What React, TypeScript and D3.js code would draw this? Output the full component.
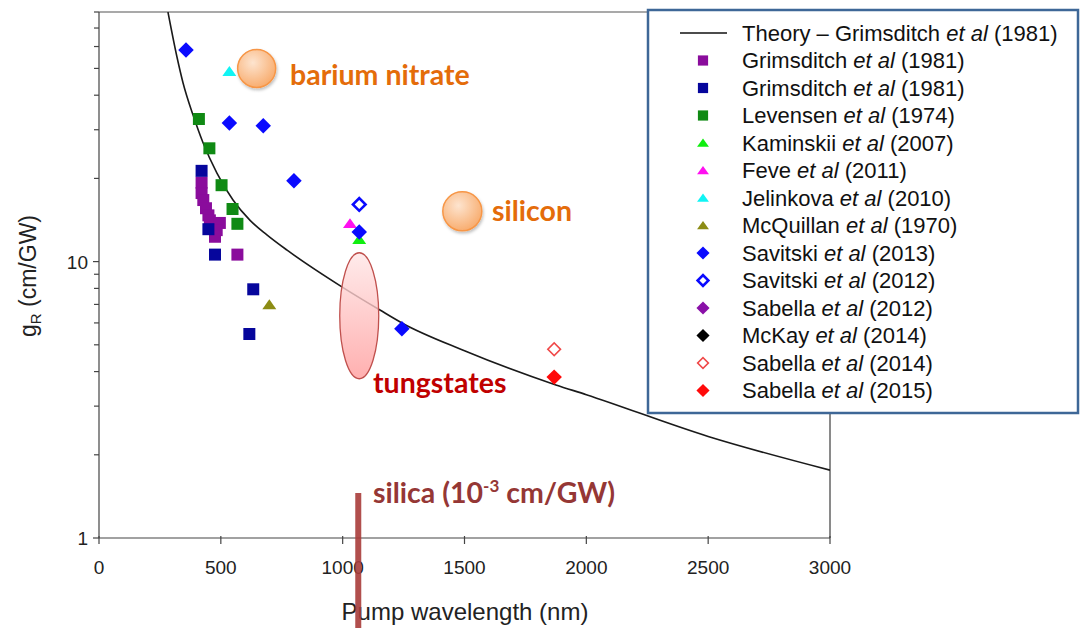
import React from 'react';
import * as d3 from 'd3';

const W = 1081;
const H = 628;

// axis ticks
const xTicks = [0, 500, 1000, 1500, 2000, 2500, 3000];
const yLabelTicks = [1, 10];
const yMinorTicks = [2, 3, 4, 5, 6, 7, 8, 9, 20, 30, 40, 50, 60, 70, 80];

// Theory – Grimsditch et al (1981): pump wavelength (nm) vs gain (cm/GW)
const theoryWavelength = [283, 320, 345, 386, 427, 484, 550, 620, 689, 772, 1000, 1153, 1243, 1500, 1875, 2000, 2500, 3000];
const theoryGain = [80, 55, 44.3, 33.9, 26.9, 20.9, 16.7, 14.1, 12.5, 11.0, 8.07, 6.68, 6.0, 4.76, 3.58, 3.3, 2.33, 1.76];

// measured data, one pair of arrays per source
const grimsditchPurpleX = [421, 421, 428, 439, 449, 455, 496, 483, 476, 568];
const grimsditchPurpleY = [19.3, 17.7, 16.7, 15.6, 14.7, 14.1, 13.8, 13.0, 12.3, 10.6];
const grimsditchNavyX = [421, 449, 476, 633, 617];
const grimsditchNavyY = [21.3, 13.1, 10.6, 7.94, 5.47];
const levensenX = [410, 453, 503, 548, 568];
const levensenY = [32.8, 25.7, 18.9, 15.5, 13.7];
const kaminskiiX = [1068];
const kaminskiiY = [12.0];
const feveX = [1030];
const feveY = [13.7];
const jelinkovaX = [535];
const jelinkovaY = [48.7];
const mcquillanX = [699];
const mcquillanY = [6.97];
const savitski2013X = [357, 535, 674, 800, 1068, 1243];
const savitski2013Y = [58.3, 31.7, 31.0, 19.6, 12.8, 5.72];
const savitski2012X = [1068];
const savitski2012Y = [16.1];
const sabella2012X: number[] = [];
const sabella2012Y: number[] = [];
const mckayX: number[] = [];
const mckayY: number[] = [];
const sabella2014X = [1868];
const sabella2014Y = [4.82];
const sabella2015X = [1868];
const sabella2015Y = [3.82];

// legend entries
const legendNames = [
  'Theory – Grimsditch', 'Grimsditch', 'Grimsditch', 'Levensen', 'Kaminskii', 'Feve', 'Jelinkova',
  'McQuillan', 'Savitski', 'Savitski', 'Sabella', 'McKay', 'Sabella', 'Sabella',
];
const legendYears = ['1981', '1981', '1981', '1974', '2007', '2011', '2010', '1970', '2013', '2012', '2012', '2014', '2014', '2015'];

type Kind = 'line' | 'square' | 'triangle' | 'diamond' | 'diamondOpen';
interface Series { kind: Kind; color: string; xs: number[]; ys: number[]; }

const series: Series[] = [
  { kind: 'line', color: '#111', xs: theoryWavelength, ys: theoryGain },
  { kind: 'square', color: '#8a0c9c', xs: grimsditchPurpleX, ys: grimsditchPurpleY },
  { kind: 'square', color: '#06069c', xs: grimsditchNavyX, ys: grimsditchNavyY },
  { kind: 'square', color: '#108a14', xs: levensenX, ys: levensenY },
  { kind: 'triangle', color: '#10ee10', xs: kaminskiiX, ys: kaminskiiY },
  { kind: 'triangle', color: '#ff10f0', xs: feveX, ys: feveY },
  { kind: 'triangle', color: '#10f4f4', xs: jelinkovaX, ys: jelinkovaY },
  { kind: 'triangle', color: '#8c8c14', xs: mcquillanX, ys: mcquillanY },
  { kind: 'diamond', color: '#0a0aff', xs: savitski2013X, ys: savitski2013Y },
  { kind: 'diamondOpen', color: '#0a0aff', xs: savitski2012X, ys: savitski2012Y },
  { kind: 'diamond', color: '#8a10a8', xs: sabella2012X, ys: sabella2012Y },
  { kind: 'diamond', color: '#000000', xs: mckayX, ys: mckayY },
  { kind: 'diamondOpen', color: '#f04848', xs: sabella2014X, ys: sabella2014Y },
  { kind: 'diamond', color: '#ff0a0a', xs: sabella2015X, ys: sabella2015Y },
];

// annotation anchors in data units
const bariumNitrate = { x: 647, y: 50 };
const siliconMark = { x: 1491, y: 15.2 };
const tungstatesMark = { x: 1068, y: 6.37 };
const silicaWavelength = 1064;

const x = d3.scaleLinear().domain([0, 3000]).range([99, 830]);
const y = d3.scaleLog().domain([1, 80]).range([538, 12]);

const AXIS_FONT = "'Liberation Sans', Arial, sans-serif";
const NOTE_FONT = "Lato, 'Open Sans', sans-serif";

function markerPath(kind: Kind, scale: number): string {
  if (kind === 'square') return d3.symbol().type(d3.symbolSquare).size(144 * scale * scale)() || '';
  if (kind === 'triangle') return d3.symbol().type(d3.symbolTriangle).size(70 * scale * scale)() || '';
  return d3.symbol().type(d3.symbolSquare).size(120 * scale * scale)() || '';
}

function Marker({ kind, color, cx, cy, scale }: { kind: Kind; color: string; cx: number; cy: number; scale: number }) {
  const d = markerPath(kind, scale);
  if (kind === 'diamond') {
    return <path d={d} transform={`translate(${cx},${cy}) rotate(45)`} fill={color} />;
  }
  if (kind === 'diamondOpen') {
    const sw = color === '#0a0aff' ? 2.6 : 1.6;
    const d2 = d3.symbol().type(d3.symbolSquare).size(80 * scale * scale)() || '';
    return <path d={d2} transform={`translate(${cx},${cy}) rotate(45)`} fill="#fff" stroke={color} strokeWidth={sw} />;
  }
  if (kind === 'triangle') {
    return <path d={d} transform={`translate(${cx},${cy + 1}) scale(1.1,0.9)`} fill={color} />;
  }
  return <path d={d} transform={`translate(${cx},${cy})`} fill={color} />;
}

export default function App() {
  const theoryLine = d3
    .line<number>()
    .x((_, i) => x(theoryWavelength[i]))
    .y((_, i) => y(theoryGain[i]))
    .curve(d3.curveMonotoneX)(theoryWavelength) || '';

  const [x0, x1] = x.range();
  const [yb, yt] = y.range();

  const legendX = 648;
  const legendY = 10;
  const rowY = (i: number) => 33 + i * 27.5;

  return (
    <svg width={W} height={H} style={{ position: 'absolute', left: 0, top: 0, background: '#fff' }}>
      <defs>
        <clipPath id="plotArea">
          <rect x={x0} y={yt} width={x1 - x0} height={yb - yt} />
        </clipPath>
        <radialGradient id="peach" cx="40%" cy="35%" r="70%">
          <stop offset="0%" stopColor="#fde4cf" />
          <stop offset="100%" stopColor="#f8aa6a" />
        </radialGradient>
        <linearGradient id="pink" x1="0" y1="0" x2="0" y2="1">
          <stop offset="0%" stopColor="#ffe6e6" />
          <stop offset="100%" stopColor="#ff9c9c" />
        </linearGradient>
        <filter id="softShadow" x="-50%" y="-50%" width="200%" height="200%">
          <feDropShadow dx="1" dy="2" stdDeviation="1.5" floodColor="#000" floodOpacity="0.25" />
        </filter>
      </defs>

      {/* frame */}
      <line x1={x0} y1={yt} x2={x1} y2={yt} stroke="#555" strokeWidth={1.2} />
      <line x1={x1} y1={yt} x2={x1} y2={yb} stroke="#8a8a8a" strokeWidth={2} />
      <line x1={x0} y1={yt} x2={x0} y2={yb} stroke="#444" strokeWidth={1.2} />
      <line x1={x0} y1={yb} x2={x1} y2={yb} stroke="#444" strokeWidth={1.2} />

      {/* x axis */}
      {xTicks.map((t) => (
        <g key={`xt${t}`}>
          <line x1={x(t)} x2={x(t)} y1={yb - 2} y2={yb + 6} stroke="#444" strokeWidth={1.2} />
          <text x={x(t)} y={574} textAnchor="middle" fontFamily={AXIS_FONT} fontSize={19} fill="#222">
            {t}
          </text>
        </g>
      ))}
      <text x={465} y={620} textAnchor="middle" fontFamily={AXIS_FONT} fontSize={24} fill="#222">
        Pump wavelength (nm)
      </text>

      {/* y axis */}
      {yLabelTicks.map((t) => (
        <g key={`yt${t}`}>
          <line x1={x0 - 6} x2={x0} y1={y(t)} y2={y(t)} stroke="#444" strokeWidth={1.2} />
          <text x={88} y={y(t) + 7} textAnchor="end" fontFamily={AXIS_FONT} fontSize={19} fill="#222">
            {t}
          </text>
        </g>
      ))}
      {yMinorTicks.map((t) => (
        <line key={`ym${t}`} x1={x0 - 5} x2={x0} y1={y(t)} y2={y(t)} stroke="#444" strokeWidth={1.2} />
      ))}
      <text
        transform="translate(36,276) rotate(-90)"
        textAnchor="middle"
        fontFamily={AXIS_FONT}
        fontSize={23}
        fill="#222"
      >
        g<tspan fontSize={15} dy={5}>R</tspan>
        <tspan dy={-5}> (cm/GW)</tspan>
      </text>

      {/* theory curve and measured points */}
      <g clipPath="url(#plotArea)">
        <path d={theoryLine} fill="none" stroke="#1a1a1a" strokeWidth={1.6} />
        {series.slice(1).map((s, si) =>
          s.xs.map((v, i) => (
            <Marker key={`p${si}-${i}`} kind={s.kind} color={s.color} cx={x(v)} cy={y(s.ys[i])} scale={1} />
          ))
        )}
      </g>

      {/* material annotations */}
      <ellipse
        cx={x(tungstatesMark.x)}
        cy={y(tungstatesMark.y)}
        rx={19.5}
        ry={63}
        fill="url(#pink)"
        fillOpacity={0.8}
        stroke="#c0504d"
        strokeWidth={1.3}
      />
      <circle
        cx={x(bariumNitrate.x)}
        cy={y(bariumNitrate.y)}
        r={19}
        fill="url(#peach)"
        stroke="#f79646"
        strokeWidth={1.5}
        filter="url(#softShadow)"
      />
      <circle
        cx={x(siliconMark.x)}
        cy={y(siliconMark.y)}
        r={19.5}
        fill="url(#peach)"
        stroke="#f79646"
        strokeWidth={1.5}
        filter="url(#softShadow)"
      />
      <text x={290} y={85} fontFamily={NOTE_FONT} fontWeight={700} fontSize={28.5} fill="#e46c0a">
        barium nitrate
      </text>
      <text x={492} y={221} fontFamily={NOTE_FONT} fontWeight={700} fontSize={28.5} fill="#e46c0a">
        silicon
      </text>
      <text x={373} y={393} fontFamily={NOTE_FONT} fontWeight={700} fontSize={28.5} fill="#c00000">
        tungstates
      </text>
      <text x={373} y={503} fontFamily={NOTE_FONT} fontWeight={700} fontSize={28.5} fill="#953735">
        silica (10<tspan fontSize={17} dy={-11}>-3</tspan>
        <tspan dy={11}> cm/GW)</tspan>
      </text>

      {/* legend */}
      <rect x={legendX} y={legendY} width={430} height={403} fill="#fff" stroke="#3e6797" strokeWidth={2.5} />
      {series.map((s, i) => (
        <g key={`lg${i}`}>
          {s.kind === 'line' ? (
            <line x1={680} x2={727} y1={rowY(i)} y2={rowY(i)} stroke="#111" strokeWidth={1.5} />
          ) : (
            <Marker kind={s.kind} color={s.color} cx={703} cy={rowY(i)} scale={0.85} />
          )}
          <text x={742} y={rowY(i) + 7.5} fontFamily={AXIS_FONT} fontSize={22} fill="#111">
            {legendNames[i]} <tspan fontStyle="italic">et al</tspan> ({legendYears[i]})
          </text>
        </g>
      ))}

      {/* silica marker bar at 1064 nm */}
      <rect x={x(silicaWavelength) - 3} y={493} width={6} height={H - 493} fill="#a83c3a" fillOpacity={0.9} />
    </svg>
  );
}
